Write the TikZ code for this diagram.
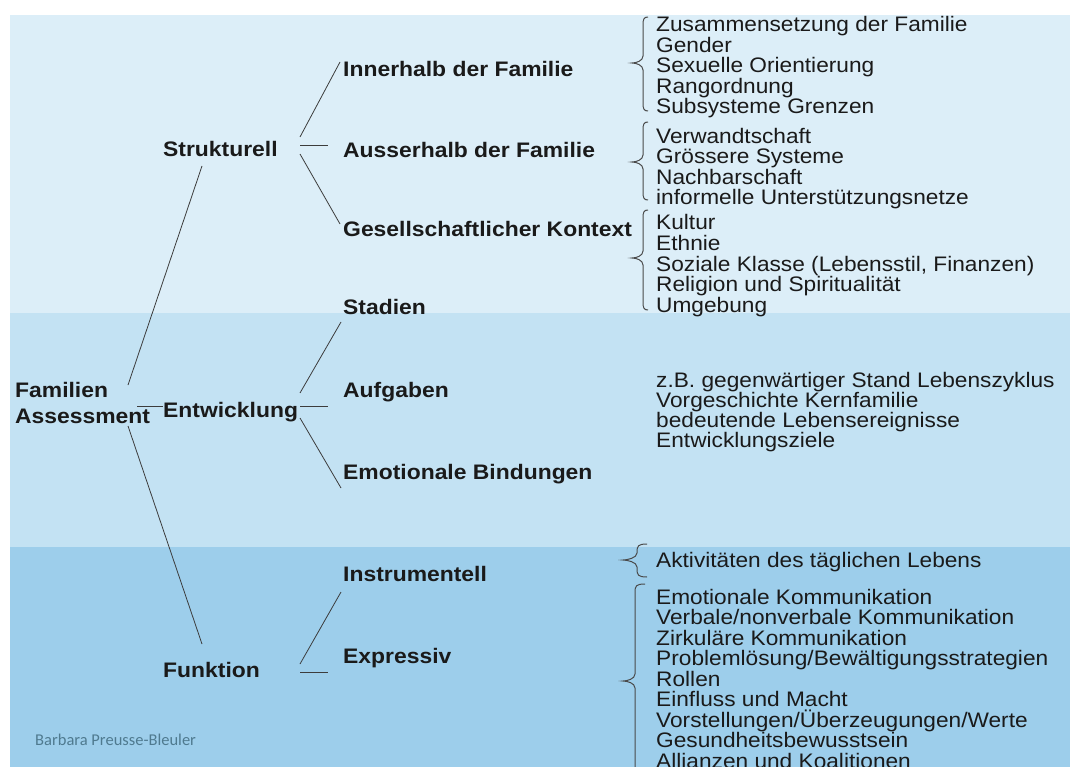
\documentclass[tikz,border=0pt]{standalone}
\usepackage{fontspec}
\setmainfont{Liberation Sans}[FakeStretch=1.08, BoldFeatures={FakeStretch=1.09}]
\newfontfamily\carl{Carlito}
\definecolor{bandA}{HTML}{DCEEF8}
\definecolor{bandB}{HTML}{C3E2F3}
\definecolor{bandC}{HTML}{9DCEEB}
\definecolor{txt}{HTML}{1A1A1A}
\definecolor{lnc}{HTML}{3C3C3C}
\definecolor{brc}{HTML}{4A4A4A}
\definecolor{sig}{HTML}{4F7A8F}
\newcommand\mybrace[6]{% #1 vertical x, #2 tip x, #3 hook x, #4 top, #5 tip y, #6 bottom
  \draw[bracestyle] (#3,#4) .. controls (#1+1,#4) and (#1,#4+2) .. (#1,#4+8)
    -- (#1,#5-7) .. controls (#1,#5-2) and (#2+4,#5) .. (#2,#5)
    .. controls (#2+4,#5) and (#1,#5+2) .. (#1,#5+7)
    -- (#1,#6-8) .. controls (#1,#6-2) and (#1+1,#6) .. (#3,#6);}
\tikzset{
  lbl/.style={font=\fontsize{21}{21}\selectfont\bfseries, text=txt, inner sep=0pt, anchor=base west},
  item/.style={font=\fontsize{21}{21}\selectfont, text=txt, inner sep=0pt, anchor=base west},
  conn/.style={draw=lnc, line width=0.8pt},
  bracestyle/.style={draw=brc, line width=1pt},
}
\begin{document}
\begin{tikzpicture}[x=1pt,y=-1pt]
\useasboundingbox (0,0) rectangle (1070,767);
\clip (0,0) rectangle (1070,767);
\fill[white] (0,0) rectangle (1070,767);
\fill[bandA] (10,15) rectangle (1070,313);
\fill[bandB] (10,313) rectangle (1070,547);
\fill[bandC] (10,547) rectangle (1070,767);

% level 0
\node[lbl] (fam) at (15,397) {Familien};
\node[lbl] (ass) at (15,423) {Assessment};
% level 1
\node[lbl] (str) at (163,157) {Strukturell};
\node[lbl] (ent) at (163,417) {Entwicklung};
\node[lbl] (fun) at (163,677) {Funktion};
% level 2
\node[lbl] (inn) at (343,77) {Innerhalb der Familie};
\node[lbl] (aus) at (343,158) {Ausserhalb der Familie};
\node[lbl] (ges) at (343,237) {Gesellschaftlicher Kontext};
\node[lbl] (sta) at (343,314) {Stadien};
\node[lbl] (auf) at (343,397) {Aufgaben};
\node[lbl] (emo) at (343,479) {Emotionale Bindungen};
\node[lbl] (ins) at (343,581) {Instrumentell};
\node[lbl] (exp) at (343,663) {Expressiv};

% connector end points
\coordinate (f1) at (128,385); \coordinate (s1) at (202,166);
\coordinate (f2) at (137,406); \coordinate (e1) at (163,406);
\coordinate (f3) at (128,426); \coordinate (u1) at (202,644);
\coordinate (s2) at (300,137); \coordinate (i1) at (340,62);
\coordinate (s3) at (300,145); \coordinate (a1) at (328,145);
\coordinate (s4) at (300,154); \coordinate (g1) at (340,224);
\coordinate (e2) at (300,393); \coordinate (t1) at (341,322);
\coordinate (e3) at (300,406); \coordinate (t2) at (328,406);
\coordinate (e4) at (300,418); \coordinate (t3) at (341,488);
\coordinate (u2) at (300,664); \coordinate (n1) at (341,592);
\coordinate (u3) at (300,672); \coordinate (n2) at (328,672);
\draw[conn] (f1) -- (s1);
\draw[conn] (f2) -- (e1);
\draw[conn] (f3) -- (u1);
\draw[conn] (s2) -- (i1);
\draw[conn] (s3) -- (a1);
\draw[conn] (s4) -- (g1);
\draw[conn] (e2) -- (t1);
\draw[conn] (e3) -- (t2);
\draw[conn] (e4) -- (t3);
\draw[conn] (u2) -- (n1);
\draw[conn] (u3) -- (n2);

% braces
\mybrace{643}{632}{648}{17}{63}{111}
\mybrace{643}{632}{648}{122}{162}{200}
\mybrace{643}{632}{648}{210}{258}{310}
\mybrace{637}{623}{647}{544}{560}{577}
\mybrace{635}{623}{645}{584}{681}{800}

% detail lists
\foreach \t [count=\i] in {Zusammensetzung der Familie, Gender, Sexuelle Orientierung, Rangordnung, Subsysteme Grenzen}
  \node[item, name=ga\i] at (656,{32+20.5*(\i-1)}) {\t};
\foreach \t [count=\i] in {Verwandtschaft, Grössere Systeme, Nachbarschaft, informelle Unterstützungsnetze}
  \node[item, name=gb\i] at (656,{143.5+20.5*(\i-1)}) {\t};
\foreach \t [count=\i] in {Kultur, Ethnie, {Soziale Klasse (Lebensstil, Finanzen)}, Religion und Spiritualität, Umgebung}
  \node[item, name=gc\i] at (656,{230+20.5*(\i-1)}) {\t};
\foreach \t [count=\i] in {z.B. gegenwärtiger Stand Lebenszyklus, Vorgeschichte Kernfamilie, bedeutende Lebensereignisse, Entwicklungsziele}
  \node[item, name=gd\i] at (656,{387+20*(\i-1)}) {\t};
\node[item] (ge1) at (656,567) {Aktivitäten des täglichen Lebens};
\foreach \t [count=\i] in {Emotionale Kommunikation, Verbale/nonverbale Kommunikation, Zirkuläre Kommunikation, Problemlösung/Bewältigungsstrategien, Rollen, Einfluss und Macht, Vorstellungen/Überzeugungen/Werte, Gesundheitsbewusstsein, Allianzen und Koalitionen}
  \node[item, name=gf\i] at (656,{604+20.5*(\i-1)}) {\t};

\node[font=\carl\fontsize{16.5}{16.5}\selectfont, text=sig, inner sep=0pt, anchor=base west] (sig) at (35,745) {Barbara Preusse-Bleuler};
\end{tikzpicture}
\end{document}
